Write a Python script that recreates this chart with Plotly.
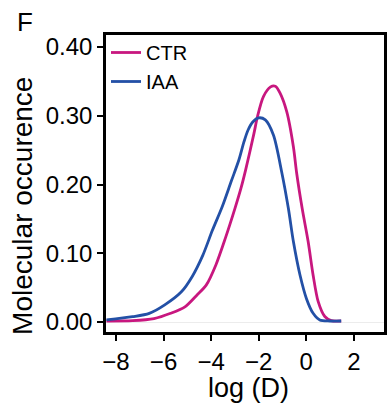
import plotly.graph_objects as go

# ---- data ----
ctr_x = [-8.4, -7.3, -6.4, -5.7, -5.1, -4.6, -4.2, -3.8, -3.4, -3.0, -2.75, -2.55, -2.2, -2.05,
         -1.8, -1.5, -1.3, -1.1, -0.82, -0.54, -0.4, -0.17, 0.08, 0.29, 0.5, 0.78, 1.05, 1.47]
ctr_y = [0.0015, 0.002, 0.005, 0.0127, 0.022, 0.039, 0.054, 0.083, 0.122, 0.165, 0.194, 0.221, 0.274, 0.299,
         0.328, 0.342, 0.343, 0.333, 0.306, 0.255, 0.216, 0.165, 0.117, 0.068, 0.030, 0.008, 0.002, 0.0015]

iaa_x = [-8.4, -7.3, -6.6, -5.95, -5.25, -4.8, -4.35, -3.95, -3.53, -3.15, -2.83, -2.62, -2.45, -2.25,
         -2.0, -1.72, -1.38, -1.03, -0.75, -0.54, -0.26, 0.01, 0.29, 0.57, 1.0, 1.47]
iaa_y = [0.003, 0.0077, 0.0126, 0.025, 0.044, 0.066, 0.097, 0.133, 0.168, 0.205, 0.236, 0.262, 0.279, 0.291,
         0.297, 0.294, 0.272, 0.218, 0.165, 0.117, 0.068, 0.034, 0.0127, 0.003, 0.0015, 0.0015]

series_names = ["CTR", "IAA"]
x_ticks = [-8, -6, -4, -2, 0, 2]
y_ticks = [0.0, 0.1, 0.2, 0.3, 0.4]

FONT = "Liberation Sans, Arial, sans-serif"
CTR_COLOR = "#C8177F"
IAA_COLOR = "#2350A6"

fig = go.Figure()
fig.add_trace(go.Scatter(x=ctr_x, y=ctr_y, mode="lines", name=series_names[0],
                         line=dict(color=CTR_COLOR, width=2.8, shape="spline", smoothing=0.8)))
fig.add_trace(go.Scatter(x=iaa_x, y=iaa_y, mode="lines", name=series_names[1],
                         line=dict(color=IAA_COLOR, width=2.8, shape="spline", smoothing=0.8)))

# plot area: x 106..387 px, y 35..332 px
L, R, T, B = 106, 3, 35, 75
W, H = 390, 407
pw, ph = W - L - R, H - T - B

def px_x(p):
    return (p - L) / pw

def px_y(p):
    return (T + ph - p) / ph

fig.update_layout(
    width=W, height=H,
    margin=dict(l=L, r=R, t=T, b=B),
    paper_bgcolor="white", plot_bgcolor="white",
    font=dict(family=FONT, color="black"),
    showlegend=True,
    legend=dict(x=px_x(106), y=px_y(33), xanchor="left", yanchor="top",
                font=dict(size=20, family=FONT), bgcolor="rgba(0,0,0,0)",
                tracegroupgap=0, itemwidth=30),
    xaxis=dict(range=[-8.42, 3.27], tickvals=x_ticks, ticks="outside", ticklen=6, tickwidth=2,
               tickcolor="black", showline=True, linecolor="black", linewidth=2.5, mirror=True,
               showgrid=False, zeroline=False, tickfont=dict(size=24, family=FONT)),
    yaxis=dict(range=[-0.0145, 0.4175], tickvals=y_ticks, tickformat=".2f", ticks="outside",
               ticklen=6, tickwidth=2, tickcolor="black", showline=True, linecolor="black",
               linewidth=2.5, mirror=True, showgrid=False, zeroline=True, zerolinecolor="#ececec",
               zerolinewidth=1, tickfont=dict(size=24, family=FONT)),
    annotations=[
        dict(text="F", x=px_x(24), y=px_y(22.5), xref="paper", yref="paper", showarrow=False,
             xanchor="center", yanchor="middle", font=dict(size=26, family=FONT)),
        dict(text="Molecular occurence", x=px_x(22), y=px_y(206), xref="paper", yref="paper",
             showarrow=False, textangle=-90, xanchor="center", yanchor="middle",
             font=dict(size=28, family=FONT)),
        dict(text="log (D)", x=px_x(250), y=px_y(388), xref="paper", yref="paper",
             showarrow=False, xanchor="center", yanchor="middle", font=dict(size=27, family=FONT)),
    ],
)

fig.write_html("out.html", config={"displayModeBar": False},
               post_script="document.body.style.margin='0px';document.body.style.overflow='hidden';")
